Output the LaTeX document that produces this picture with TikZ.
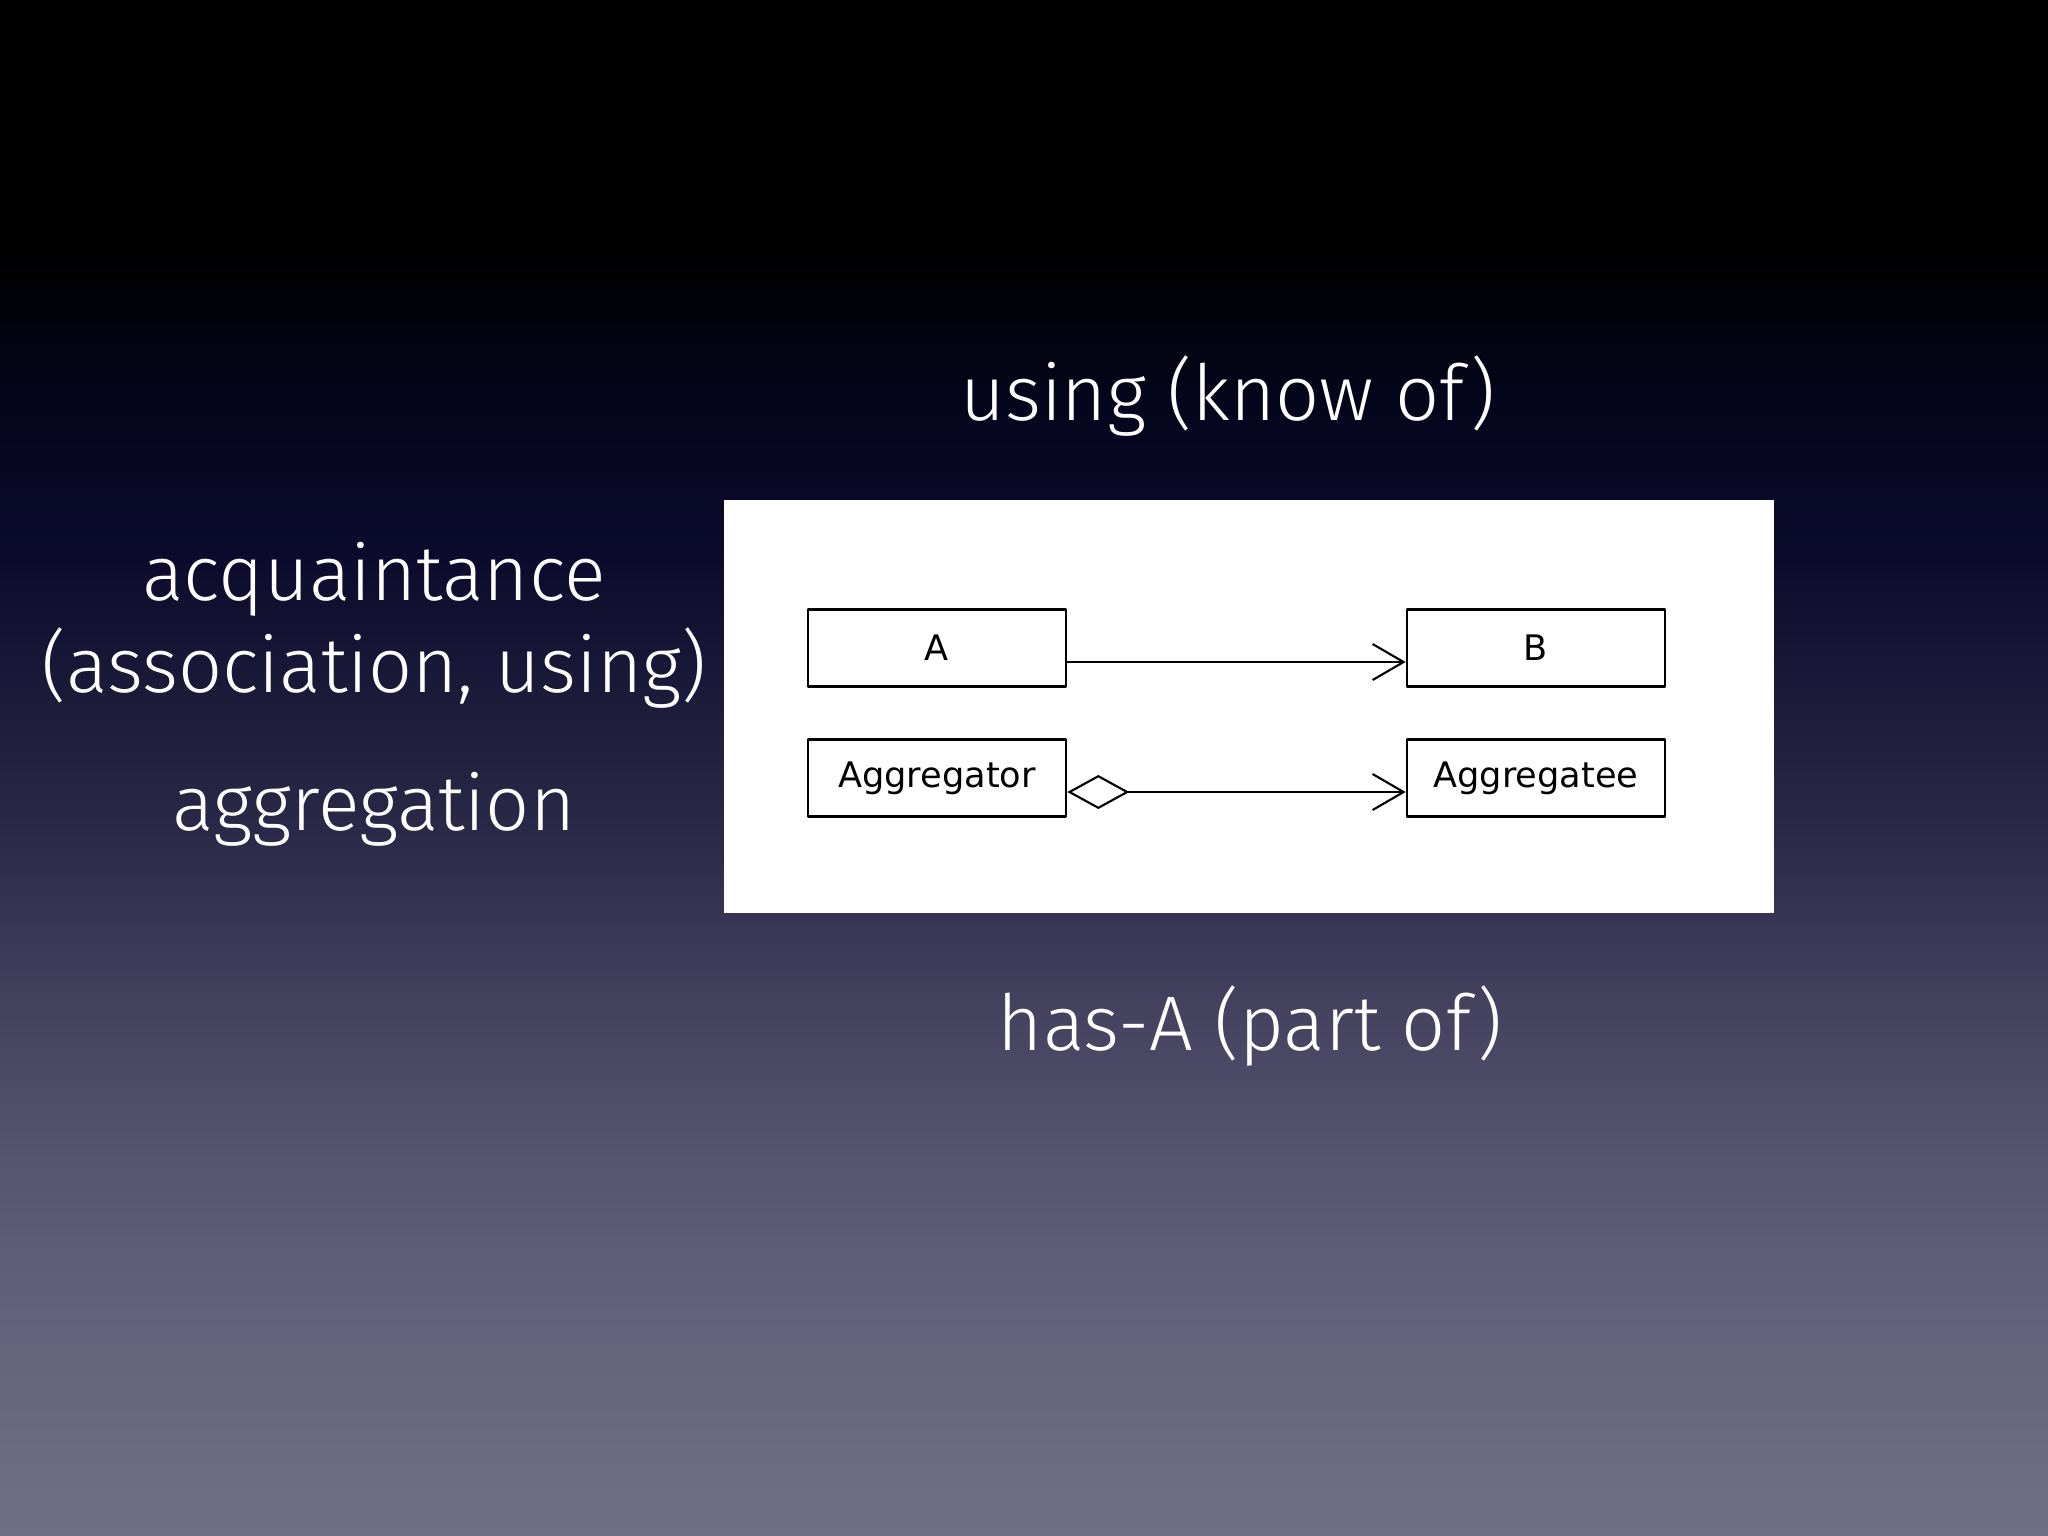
\documentclass[tikz,border=0pt]{standalone}
\usepackage{fontspec}
\setmainfont{Fira Sans}[UprightFont=* Light]
\newfontfamily\umlfont{DejaVu Sans}
\usetikzlibrary{arrows.meta}
\definecolor{bgA}{HTML}{000000}
\definecolor{bgB}{HTML}{05051C}
\definecolor{bgC}{HTML}{0B0A2C}
\definecolor{bgD}{HTML}{1C1B3A}
\definecolor{bgE}{HTML}{2D2B4A}
\definecolor{bgF}{HTML}{44415F}
\definecolor{bgG}{HTML}{56536F}
\definecolor{bgH}{HTML}{63607B}
\definecolor{bgI}{HTML}{716E87}
\pgfdeclareverticalshading{slidebg}{100bp}{color(0bp)=(bgI); color(25bp)=(bgI);
  color(32.68bp)=(bgH); color(37.57bp)=(bgG); color(42.45bp)=(bgF);
  color(47.33bp)=(bgE); color(52.21bp)=(bgD); color(57.10bp)=(bgC);
  color(61.98bp)=(bgB); color(66.86bp)=(bgA); color(75bp)=(bgA); color(100bp)=(bgA)}
\tikzset{
  slidetext/.style={text=white,anchor=base,inner sep=0pt,font=\fontsize{22}{27}\selectfont},
  umlbox/.style={draw=black,fill=white,line width=.7pt,minimum width=2.58cm,minimum height=.77cm,
    inner sep=0pt,font=\umlfont\fontsize{10}{12}\selectfont},
  uses/.style={line width=.6pt,-{Straight Barb[length=.31cm,width=.36cm,line width=.6pt]}},
  hasa/.style={line width=.6pt,{Diamond[open,fill=white,length=.62cm,width=.34cm,line width=.6pt]}-{Straight Barb[length=.31cm,width=.36cm,line width=.6pt]}}
}
\begin{document}
\begin{tikzpicture}[x=.01cm,y=-.01cm,line join=round,line cap=round]
		%nền slide
		\useasboundingbox (0,0) rectangle (2048,1536);
		\shade[shading=slidebg] (0,0) rectangle (2048,1536);
		%khung trắng
		\fill[white] (724,500) rectangle (1774,913);
		\foreach \t/\x/\y/\s in {A/937/648/A,B/1536/648/B,Ag/937/778/Aggregator,Ae/1536/778/Aggregatee}{
		\node[umlbox] (\t) at (\x,\y) {\s};}
		\draw[uses] ([yshift=-.14cm]A.east)--([yshift=-.14cm]B.west);
		\draw[hasa] ([yshift=-.14cm]Ag.east)--([yshift=-.14cm]Ae.west);
		%chữ
		\node[slidetext] (using) at (1228,420) {using (know of)};
		\node[slidetext] (acq) at (374,600) {acquaintance};
		\node[slidetext] (assoc) at (374,692) {(association, using)};
		\node[slidetext] (aggr) at (374,830) {aggregation};
		\node[slidetext] (hasA) at (1250,1050) {has-A (part of)};
\end{tikzpicture}
\end{document}
